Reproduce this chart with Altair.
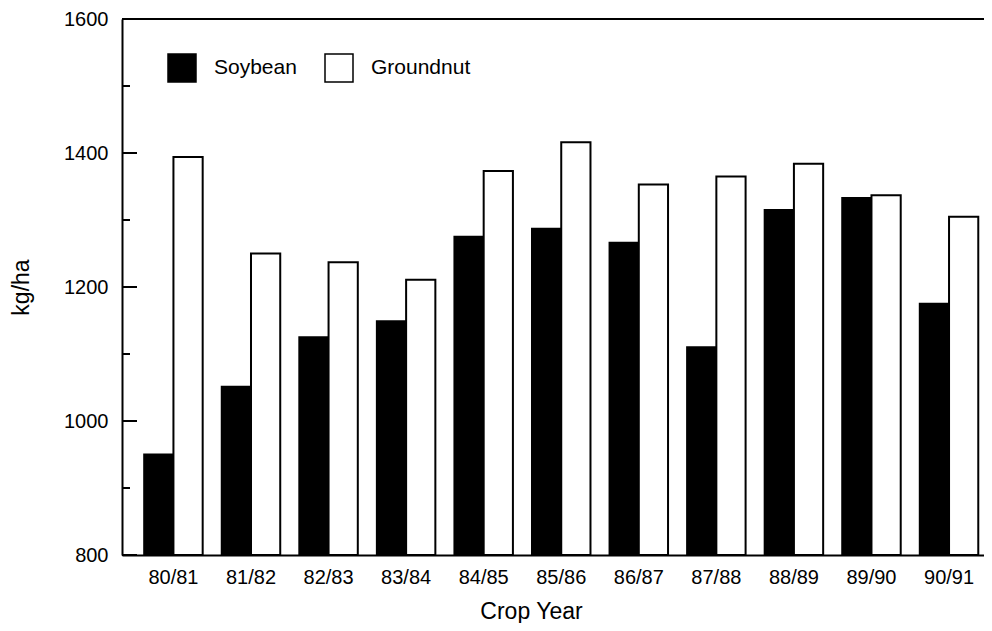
import altair as alt
import pandas as pd

years = ["80/81", "81/82", "82/83", "83/84", "84/85", "85/86",
         "86/87", "87/88", "88/89", "89/90", "90/91"]
soybean = [950, 1051, 1125, 1149, 1275, 1287, 1266, 1110, 1315, 1333, 1175]
groundnut = [1394, 1250, 1237, 1211, 1373, 1416, 1353, 1365, 1384, 1337, 1305]
crops = ["Soybean", "Groundnut"]
major_ticks = [800, 1000, 1200, 1400, 1600]
minor_ticks = [900, 1100, 1300, 1500]

rows = []
for i, y in enumerate(years):
    rows.append({"year": y, "crop": "Soybean", "value": soybean[i]})
    rows.append({"year": y, "crop": "Groundnut", "value": groundnut[i]})
df = pd.DataFrame(rows)

W, H = 862, 536
FONT = "Liberation Sans"
yscale = alt.Scale(domain=[800, 1600], zero=False, nice=False)

yaxis = alt.Axis(values=major_ticks, format="d", ticks=False, grid=False,
                 domainWidth=2, domainColor="black",
                 labelFontSize=20, labelPadding=14, labelColor="black",
                 title="kg/ha", titleFontSize=23, titleFontWeight="normal",
                 titlePadding=30, titleColor="black")

bars = alt.Chart(df).mark_bar(stroke="black", strokeWidth=2).encode(
    x=alt.X("year:N", sort=years,
            scale=alt.Scale(paddingInner=0.246, paddingOuter=0.18, align=0.795),
            axis=alt.Axis(title="Crop Year", labelAngle=0, ticks=False,
                          domainWidth=2, domainColor="black",
                          labelFontSize=20, labelPadding=12, labelColor="black",
                          titleFontSize=23, titleX=409, titleY=63,
                          titleBaseline="alphabetic", titleAlign="center",
                          titleFontWeight="normal", titleColor="black")),
    xOffset=alt.XOffset("crop:N", sort=crops,
                        scale=alt.Scale(paddingInner=0, paddingOuter=0)),
    y=alt.Y("value:Q", scale=yscale, axis=yaxis),
    y2=alt.datum(800),
    fill=alt.Fill("crop:N",
                  scale=alt.Scale(domain=crops, range=["black", "white"]),
                  legend=alt.Legend(title=None, orient="none", legendX=45, legendY=34,
                                    direction="horizontal", symbolType="square",
                                    symbolSize=784, symbolStrokeColor="black",
                                    symbolStrokeWidth=1.5, labelFontSize=21,
                                    labelFont=FONT, labelColor="black",
                                    labelOffset=17, columnPadding=25, padding=0)),
)

major_df = pd.DataFrame({"value": major_ticks})
minor_df = pd.DataFrame({"value": minor_ticks})
major = alt.Chart(major_df).mark_rule(color="black", strokeWidth=2).encode(
    y=alt.Y("value:Q", scale=yscale, axis=yaxis), x=alt.value(0), x2=alt.value(15))
minor = alt.Chart(minor_df).mark_rule(color="black", strokeWidth=2).encode(
    y=alt.Y("value:Q", scale=yscale, axis=yaxis), x=alt.value(0), x2=alt.value(8))
top = alt.Chart(pd.DataFrame({"a": [0]})).mark_rule(color="black", strokeWidth=2).encode(
    x=alt.value(0), x2=alt.value(W), y=alt.value(0))

chart = alt.layer(bars, major, minor, top).properties(
    width=W, height=H,
    autosize=alt.AutoSizeParams(type="none"),
    padding={"left": 114, "top": 11, "right": 0, "bottom": 68},
).configure_view(stroke=None).configure_axis(
    labelFont=FONT, titleFont=FONT
).configure(background="white")

chart.save("out.html", embed_options={"renderer": "svg", "actions": False})
